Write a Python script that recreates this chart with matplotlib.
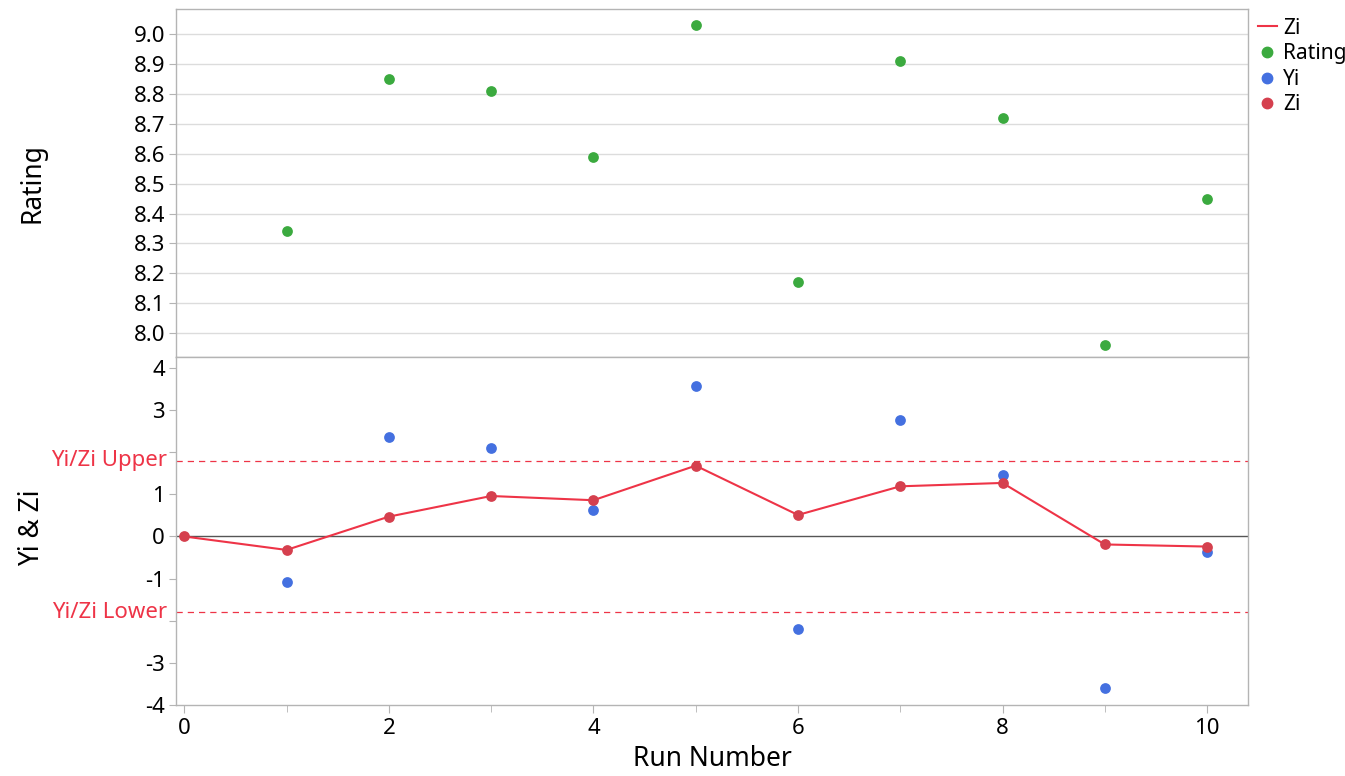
import numpy as np
import matplotlib
matplotlib.use("Agg")
import matplotlib.pyplot as plt
from matplotlib.lines import Line2D
from matplotlib.ticker import MultipleLocator

plt.rcParams['font.family'] = ['Noto Sans', 'DejaVu Sans']

# values
run_number = [1, 2, 3, 4, 5, 6, 7, 8, 9, 10]
rating = [8.34, 8.85, 8.81, 8.59, 9.03, 8.17, 8.91, 8.72, 7.96, 8.45]
yi = [-1.09, 2.35, 2.09, 0.62, 3.56, -2.19, 2.76, 1.47, -3.59, -0.36]
zi_run = [0, 1, 2, 3, 4, 5, 6, 7, 8, 9, 10]
zi = [0.0, -0.32, 0.47, 0.96, 0.86, 1.68, 0.51, 1.19, 1.27, -0.19, -0.24]
upper_limit = 1.8
lower_limit = -1.8

green = '#3BAA3F'
blue = '#4470E0'
red_dot = '#D5404E'
red_line = '#EE3447'
frame = '#B4B4B4'

fig = plt.figure(figsize=(13.45, 7.76), dpi=100)
ax1 = fig.add_axes([0.1309, 0.5399, 0.797, 0.4485])
ax2 = fig.add_axes([0.1309, 0.0915, 0.797, 0.4485], sharex=ax1)

# top panel: Rating
ax1.scatter(run_number, rating, s=60, color=green, zorder=3, linewidths=0)
ax1.set_ylim(7.92, 9.084)
ax1.set_yticks(np.arange(8.0, 9.01, 0.1))
ax1.yaxis.set_major_formatter(plt.FormatStrFormatter('%.1f'))
ax1.grid(axis='y', color='#DCDCDC', linewidth=1)
ax1.set_axisbelow(True)
ax1.tick_params(axis='x', which='both', bottom=False, labelbottom=False)
ax1.tick_params(axis='y', labelsize=16, length=5, color=frame, pad=3)
ax1.set_ylabel('Rating', fontsize=19)
ax1.yaxis.set_label_coords(-0.121, 0.5)

# bottom panel: Yi & Zi
ax2.axhline(0, color='#555555', linewidth=1, zorder=1)
ax2.axhline(upper_limit, color=red_line, linestyle=(0, (5, 4)), linewidth=0.9, zorder=1)
ax2.axhline(lower_limit, color=red_line, linestyle=(0, (5, 4)), linewidth=0.9, zorder=1)
ax2.plot(zi_run, zi, color=red_line, linewidth=1.5, zorder=2)
ax2.scatter(run_number, yi, s=60, color=blue, zorder=3, linewidths=0)
ax2.scatter(zi_run, zi, s=60, color=red_dot, zorder=4, linewidths=0)
ax2.set_ylim(-4, 4.26)
ax2.set_yticks([-4, -3, -2, -1, 0, 1, 2, 3, 4])
ax2.set_yticklabels(['-4', '-3', '', '-1', '0', '1', '', '3', '4'])
ax2.tick_params(axis='y', labelsize=16, length=5, color=frame, pad=3)
ax2.text(-0.008, upper_limit, 'Yi/Zi Upper', color=red_line, fontsize=16,
         ha='right', va='center', transform=ax2.get_yaxis_transform())
ax2.text(-0.008, lower_limit, 'Yi/Zi Lower', color=red_line, fontsize=16,
         ha='right', va='center', transform=ax2.get_yaxis_transform())
ax2.set_ylabel('Yi & Zi', fontsize=19)
ax2.yaxis.set_label_coords(-0.121, 0.51)

ax2.set_xlim(-0.08, 10.4)
ax2.xaxis.set_major_locator(MultipleLocator(2))
ax2.xaxis.set_minor_locator(MultipleLocator(1))
ax2.tick_params(axis='x', which='both', labelsize=16, color=frame)
ax2.tick_params(axis='x', which='major', length=6)
ax2.tick_params(axis='x', which='minor', length=5)
ax2.set_xlabel('Run Number', fontsize=19, labelpad=4)

for ax in (ax1, ax2):
    for sp in ax.spines.values():
        sp.set_color(frame)
        sp.set_linewidth(1)

handles = [
    Line2D([0], [0], color=red_line, linewidth=1.5),
    Line2D([0], [0], marker='o', linestyle='', color=green, markersize=7.5),
    Line2D([0], [0], marker='o', linestyle='', color=blue, markersize=7.5),
    Line2D([0], [0], marker='o', linestyle='', color=red_dot, markersize=7.5),
]
fig.legend(handles, ['Zi', 'Rating', 'Yi', 'Zi'], loc='upper left',
           bbox_to_anchor=(0.929, 0.988), frameon=False, fontsize=15,
           handlelength=0.9, handletextpad=0.3, labelspacing=0.22, borderaxespad=0)

fig.savefig('out.png', dpi=100)
